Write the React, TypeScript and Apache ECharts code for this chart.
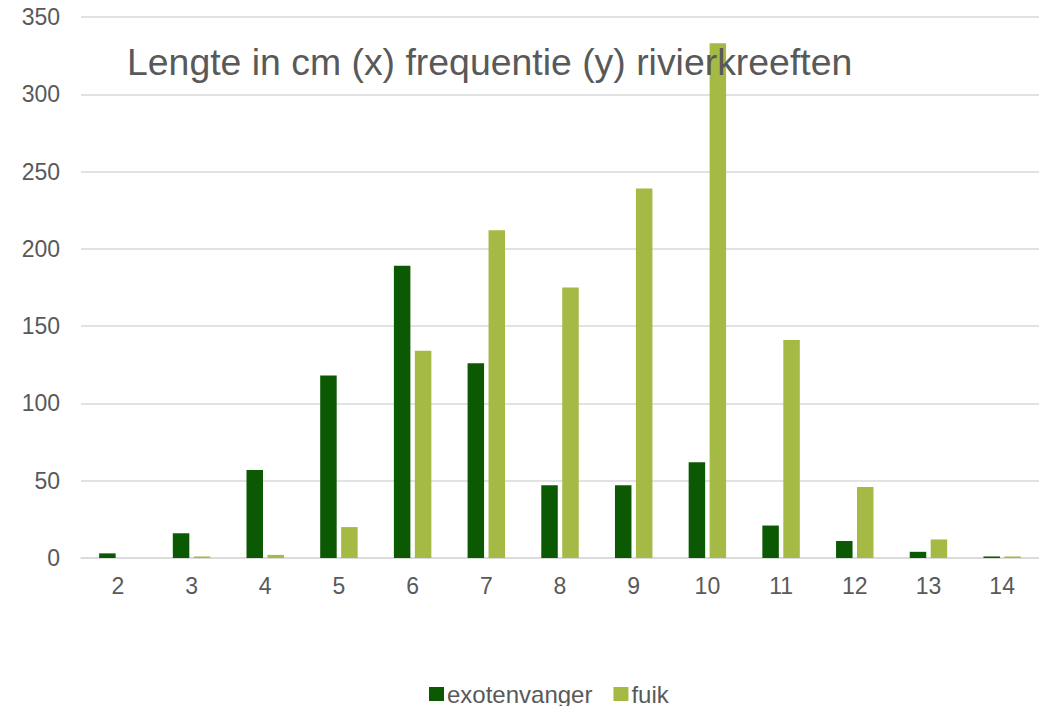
import React, { useEffect, useRef } from "react";
import * as echarts from "echarts";

const categories = ["2", "3", "4", "5", "6", "7", "8", "9", "10", "11", "12", "13", "14"];
const exotenvanger = [3, 16, 57, 118, 189, 126, 47, 47, 62, 21, 11, 4, 1];
const fuik = [0, 1, 2, 20, 134, 212, 175, 239, 333, 141, 46, 12, 1];
const yTicks = { min: 0, max: 350, interval: 50 };
const titleText = "Lengte in cm (x) frequentie (y) rivierkreeften";

export default function App() {
  const ref = useRef<HTMLDivElement>(null);
  useEffect(() => {
    if (!ref.current) return;
    const chart = echarts.init(ref.current, undefined, { renderer: "svg" });
    const font = "'Liberation Sans', Arial, sans-serif";
    chart.setOption({
      animation: false,
      textStyle: { fontFamily: font },
      grid: { left: 81, right: 0, top: 17, bottom: 148, containLabel: false },
      graphic: [
        {
          type: "text",
          left: 127,
          top: 43,
          z: 10,
          style: { text: titleText, fill: "#595959", font: `37.4px ${font}` },
        },
      ],
      legend: {
        left: 429,
        top: 682,
        padding: 0,
        itemWidth: 15,
        itemHeight: 14,
        itemGap: 21,
        icon: "rect",
        textStyle: { fontSize: 24, color: "#595959", fontFamily: font, padding: [0, 0, 0, -2] },
        data: ["exotenvanger", "fuik"],
      },
      xAxis: {
        type: "category",
        data: categories,
        axisLine: { lineStyle: { color: "#d9d9d9", width: 1.5 } },
        axisTick: { show: false },
        axisLabel: { fontSize: 23, color: "#595959", margin: 16, fontFamily: font },
      },
      yAxis: {
        type: "value",
        min: yTicks.min,
        max: yTicks.max,
        interval: yTicks.interval,
        axisLine: { show: false },
        axisTick: { show: false },
        splitLine: { lineStyle: { color: "#d9d9d9", width: 1.5 } },
        axisLabel: { fontSize: 23, color: "#595959", margin: 21, fontFamily: font },
      },
      series: [
        {
          name: "exotenvanger",
          type: "bar",
          data: exotenvanger,
          barWidth: 16.5,
          barGap: "27%",
          itemStyle: { color: "#0b5a03" },
        },
        {
          name: "fuik",
          type: "bar",
          data: fuik,
          barWidth: 16.5,
          barGap: "27%",
          itemStyle: { color: "#a4ba44" },
        },
      ],
    });
    return () => chart.dispose();
  }, []);
  return (
    <div
      ref={ref}
      style={{ position: "fixed", left: 0, top: 0, width: 1039, height: 706, background: "#fff" }}
    />
  );
}
